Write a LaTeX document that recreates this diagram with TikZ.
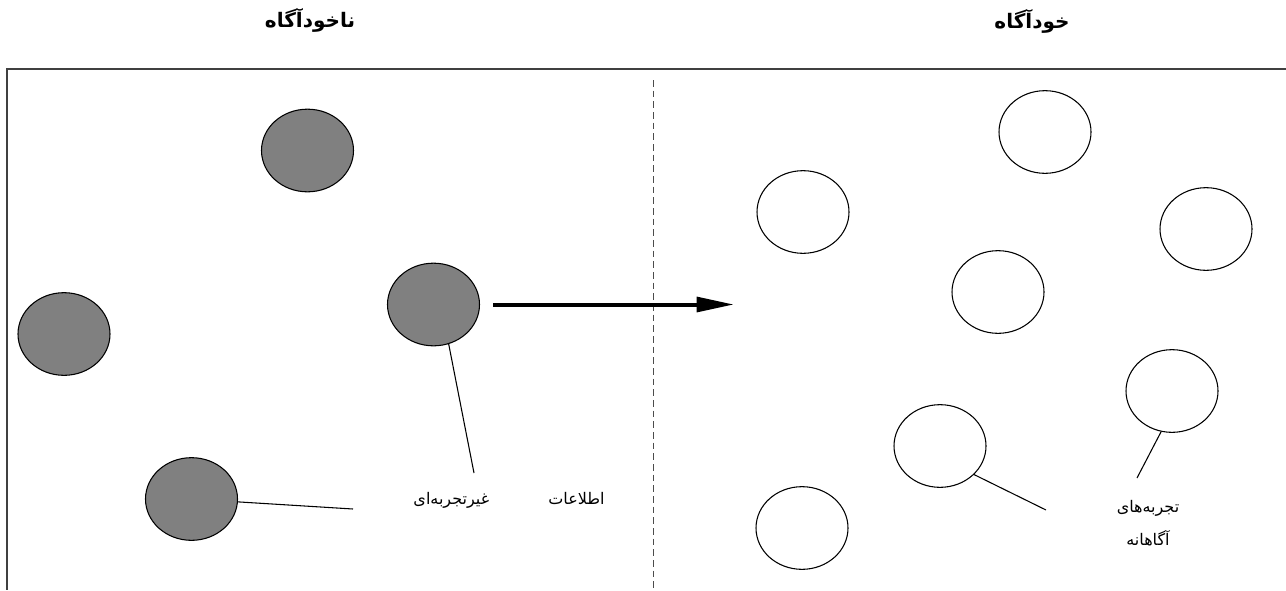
\documentclass[tikz,border=0pt]{standalone}
\usepackage{fontspec}
\newfontfamily\arabicfont[Script=Arabic]{DejaVu Sans}
\TeXXeTstate=1
\usetikzlibrary{shapes.geometric}
\usetikzlibrary{arrows.meta}

\begin{document}
\begin{tikzpicture}
[x=0.75pt,y=-0.75pt,
unconscious/.style = {ellipse, draw=black, line width=0.8pt, fill=gray, minimum width=69pt, minimum height=62pt, inner sep=0pt},
conscious/.style   = {ellipse, draw=black, line width=0.8pt, fill=white, minimum width=69pt, minimum height=62pt, inner sep=0pt},
title/.style       = {font=\arabicfont\bfseries\fontsize{15}{18}\selectfont},
note/.style        = {font=\arabicfont\fontsize{12}{25}\selectfont, align=center},
frame/.style       = {draw=black!75, line width=1.2pt},
divider/.style     = {draw=black!70, line width=0.7pt, dash pattern=on 5pt off 3pt},
line/.style        = {draw, line width=0.8pt},
flow/.style        = {draw, line width=3pt, -{Triangle[length=28pt,width=11pt]}, shorten <=10pt}
]
\useasboundingbox (0,0) rectangle (1286,590);

% titles
\node [title] (t_unconscious) at (310,20) {\beginR ناخودآگاه\endR};
\node [title] (t_conscious) at (1032,21) {\beginR خودآگاه\endR};

% frame and divider
\coordinate (corner) at (7,69);
\coordinate (frame_right) at (1286,69);
\coordinate (frame_bottom) at (7,590);
\coordinate (div_top) at (653,80);
\coordinate (div_bottom) at (653,590);
\path [frame] (frame_right) -- (corner) -- (frame_bottom);
\path [divider] (div_top) -- (div_bottom);

% unconscious side
\node [unconscious] (g1) at (307.5,150.5) {};
\node [unconscious] (g2) at (433.5,304.5) {};
\node [unconscious] (g3) at (64,334) {};
\node [unconscious] (g4) at (191.5,499) {};

% conscious side
\node [conscious] (w1) at (1045,132) {};
\node [conscious] (w2) at (803,212) {};
\node [conscious] (w3) at (1206,229) {};
\node [conscious] (w4) at (998,292) {};
\node [conscious] (w5) at (1172,391) {};
\node [conscious] (w6) at (940,446) {};
\node [conscious] (w7) at (802,528) {};

% labels
\node [note] (info) at (509,500) {\beginR اطلاعات\hspace{3.7em}غیرتجربه‌ای\endR};
\node [note] (experiences) at (1148,523) {\beginR تجربه‌های\endR\\\beginR آگاهانه\endR};

\coordinate (arrow_end) at (734,304.5);
\coordinate (tip_a) at (474,473);
\coordinate (tip_b) at (353,509);
\coordinate (tip_c) at (1137,478);
\coordinate (tip_d) at (1046,510);

\path [flow] (g2) -- (arrow_end);
\begin{scope}[every path/.style=line]
\path (g2.-69) -- (tip_a);
\path (g4) -- (tip_b);
\path (w5.-105) -- (tip_c);
\path (w6.-40) -- (tip_d);
\end{scope}

\end{tikzpicture}
\end{document}
